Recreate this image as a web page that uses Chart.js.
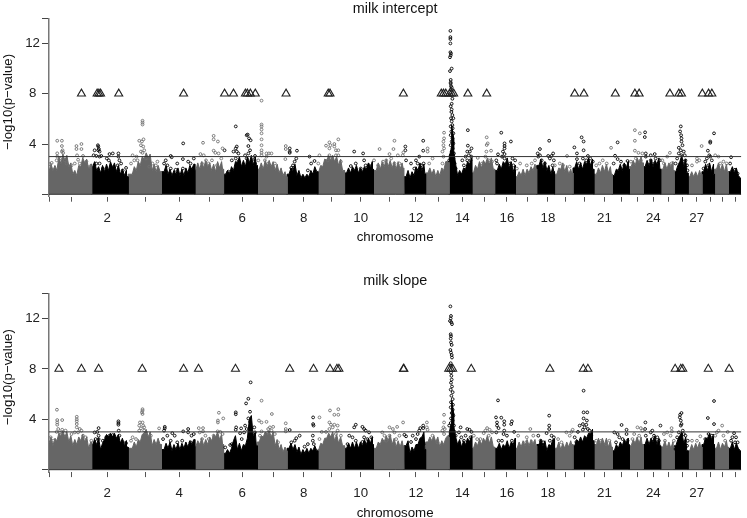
<!DOCTYPE html>
<html>
<head>
<meta charset="utf-8">
<title>milk intercept / milk slope</title>
<script src="https://cdn.jsdelivr.net/npm/chart.js@4"></script>
<style>
  html, body { margin: 0; padding: 0; background: #fff; }
  #page { position: relative; width: 747px; height: 518px; overflow: hidden; }
  canvas { position: absolute; left: 0; }
  #interceptChart { top: 0; }
  #slopeChart { top: 259px; }
</style>
</head>
<body>
<div id="page">
  <canvas id="interceptChart" width="747" height="259"></canvas>
  <canvas id="slopeChart" width="747" height="259"></canvas>
</div>
<script>
// Genome position has no numeric scale in the picture, so x runs 0-698 along the axis
const chromEnds = [43, 79.7, 113.3, 147, 176, 210, 240, 271, 298, 327, 357.7, 379.7, 403.3, 426.3, 449.3,
  470.3, 491.7, 509.7, 528.3, 549.3, 568, 585, 599.3, 616.7, 630.3, 644.3, 658.3, 671, 685, 697];
const chromTicks = [0, 22.3, 58.7, 97.7, 131.3, 162.3, 194.7, 226.3, 256.7, 285.3, 314.3, 343.3, 370, 392.7, 416.7,
  439, 461.7, 482.3, 503, 520.3, 540.3, 560, 577.3, 593.3, 609.3, 624.3, 639, 653, 666.7, 679.3, 691.7];
const chromLabels = ["", "", "2", "", "4", "", "6", "", "8", "", "10", "", "12", "", "14",
  "", "16", "", "18", "", "", "21", "", "", "24", "", "", "27", "", "", ""];
const yTicks = [0, 4, 8, 12, 14];
const yLabels = ["", "4", "8", "12", ""];
const threshold = 3;

// Top of the solid mass of points, one row per chromosome
const bandPositions = [
  0, 4, 8, 12, 16, 20, 24, 28, 32, 36, 40,
  44, 48, 52, 56, 60, 64, 68, 72, 76, 78,
  84, 88, 92, 96, 100, 104, 108, 112,
  116, 120, 124, 128, 132, 136, 140, 144,
  148, 152, 156, 160, 164, 168, 172, 175,
  178, 182, 186, 190, 194, 198, 202, 206, 209,
  212, 216, 220, 224, 228, 232, 236, 239,
  242, 246, 250, 254, 258, 262, 266, 270,
  272, 276, 280, 284, 288, 292, 296,
  300, 304, 308, 312, 316, 320, 324, 326,
  330, 334, 338, 342, 346, 350, 354, 357,
  360, 364, 368, 372, 376, 379,
  382, 386, 390, 394, 398, 402,
  404, 406, 408, 412, 416, 420, 424,
  428, 432, 436, 440, 444, 448,
  452, 456, 460, 464, 468,
  472, 476, 480, 484, 488, 491,
  494, 498, 502, 506, 509,
  512, 516, 520, 524, 527,
  530, 534, 538, 542, 546, 548,
  552, 556, 560, 564, 567,
  570, 574, 578, 582, 584,
  587, 591, 595, 598,
  601, 605, 609, 613, 616,
  619, 623, 627, 629,
  632, 636, 640, 643,
  646, 650, 654, 657,
  660, 664, 668, 670,
  673, 677, 681, 684,
  687, 691, 695, 697
];
const interceptBand = [
  1.8, 1.9, 1.9, 2.4, 2.7, 2.2, 1.6, 1.5, 2.2, 2.5, 2.0,
  2.2, 1.9, 1.7, 1.8, 1.9, 2.1, 1.8, 1.6, 1.5, 1.4,
  1.6, 1.9, 2.3, 2.8, 2.9, 1.9, 1.8, 1.8,
  1.8, 1.6, 1.5, 1.6, 1.5, 1.5, 1.7, 2.0,
  1.9, 2.0, 2.1, 2.2, 1.9, 1.8, 2.1, 2.0,
  1.6, 1.6, 1.9, 2.5, 2.2, 2.2, 2.5, 2.3, 2.3,
  2.0, 2.0, 2.2, 2.2, 1.9, 1.7, 1.5, 1.4,
  1.6, 1.9, 1.5, 1.3, 1.3, 1.4, 1.6, 1.8,
  1.8, 2.2, 2.7, 2.7, 2.6, 2.3, 1.9,
  1.7, 1.7, 1.9, 1.7, 1.8, 2.0, 2.1, 2.0,
  1.9, 2.0, 2.2, 2.2, 2.1, 2.0, 2.0, 2.1,
  1.4, 1.3, 1.5, 1.9, 1.9, 1.6,
  1.7, 1.6, 1.4, 1.5, 1.9, 2.6,
  3.0, 5.5, 3.5, 1.5, 1.6, 2.0, 2.4,
  1.7, 2.0, 2.1, 2.4, 2.4, 2.0,
  1.9, 2.0, 2.4, 2.1, 1.8,
  1.4, 1.5, 1.5, 1.7, 1.9, 2.0,
  2.3, 2.1, 1.9, 1.6, 1.8,
  1.6, 2.0, 1.8, 1.6, 1.7,
  2.1, 2.0, 2.0, 2.4, 2.3, 2.0,
  1.6, 1.7, 1.8, 1.7, 1.6,
  1.5, 1.9, 1.9, 2.1, 2.0,
  2.2, 2.3, 2.5, 2.5,
  2.2, 2.3, 2.2, 2.4, 2.0,
  2.0, 2.0, 2.2, 1.9,
  1.8, 2.6, 2.2, 1.7,
  1.4, 1.4, 1.4, 1.6,
  1.8, 1.9, 1.8, 1.6,
  2.0, 1.9, 1.8, 1.8,
  1.8, 1.7, 1.5, 1.3
];
const slopeBand = [
  2.1, 1.9, 2.3, 2.7, 2.6, 2.2, 1.9, 2.0, 2.3, 2.2, 1.7,
  2.0, 2.0, 1.6, 2.4, 2.6, 2.6, 2.5, 2.1, 1.9, 1.8,
  1.7, 1.8, 2.2, 2.9, 2.6, 1.9, 2.0, 2.0,
  1.6, 1.7, 1.5, 1.6, 1.6, 1.7, 1.8, 2.0,
  1.8, 2.0, 1.9, 2.0, 2.3, 2.6, 2.4, 2.0,
  1.3, 1.3, 2.3, 1.6, 1.5, 1.9, 4.0, 2.6, 1.9,
  2.2, 2.6, 2.8, 2.6, 1.9, 1.6, 1.4, 1.5,
  1.7, 1.6, 1.4, 1.2, 1.3, 1.3, 1.5, 1.5,
  1.6, 2.0, 2.5, 2.6, 2.3, 2.1, 1.9,
  1.7, 1.7, 1.7, 1.7, 1.9, 2.0, 2.1, 2.0,
  1.7, 2.0, 2.2, 2.3, 2.0, 1.8, 1.8, 1.9,
  1.9, 1.3, 1.5, 2.0, 2.6, 1.6,
  2.2, 2.3, 2.2, 1.8, 2.0, 2.7,
  3.0, 5.5, 3.5, 2.0, 1.8, 2.0, 2.2,
  1.7, 1.9, 2.0, 2.2, 2.1, 1.8,
  1.7, 1.6, 1.8, 1.7, 2.0,
  1.7, 1.8, 1.9, 1.9, 2.0, 1.9,
  2.0, 1.9, 1.5, 1.9, 2.4,
  1.7, 1.6, 1.7, 1.8, 2.0,
  1.9, 2.2, 2.2, 2.5, 2.9, 2.3,
  2.0, 2.0, 2.0, 1.8, 1.8,
  1.5, 1.7, 1.9, 2.1, 2.0,
  1.9, 2.1, 2.1, 2.0,
  2.0, 2.0, 2.2, 2.0, 1.9,
  1.8, 1.7, 1.7, 1.8,
  1.9, 2.7, 2.1, 1.5,
  1.5, 1.6, 1.7, 1.8,
  2.0, 2.5, 2.4, 2.0,
  1.7, 1.6, 1.8, 1.8,
  1.7, 1.6, 1.7, 1.5
];

// Highest points in the fringe just right of each band position, same rows as above
const interceptPeaks = [
  2.4, 2.3, 3.0, 3.2, 3.1, 2.5, 1.9, 2.3, 2.9, 2.8, 2.4,
  2.6, 2.2, 2.3, 2.4, 2.6, 2.5, 2.3, 2.0, 1.9, 1.7,
  2.2, 2.6, 3.0, 3.3, 3.2, 2.4, 2.3, 2.1,
  2.3, 2.0, 1.9, 2.1, 2.0, 2.1, 2.3, 2.4,
  2.5, 2.6, 2.7, 2.5, 2.4, 2.6, 2.6, 2.4,
  1.9, 2.2, 2.6, 3.0, 2.7, 3.0, 3.1, 3.0, 2.6,
  2.5, 2.7, 2.7, 2.6, 2.4, 2.1, 1.8, 1.7,
  2.1, 2.4, 1.9, 1.6, 1.6, 1.9, 2.2, 2.3,
  2.3, 2.8, 3.1, 3.1, 3.0, 2.8, 2.3,
  2.1, 2.2, 2.3, 2.1, 2.2, 2.5, 2.6, 2.4,
  2.5, 2.6, 2.8, 2.7, 2.6, 2.6, 2.5, 2.5,
  1.9, 1.8, 2.2, 2.5, 2.4, 2.1,
  2.1, 2.0, 1.9, 2.1, 2.6, 3.0,
  3.8, 4.5, 2.4, 1.9, 2.1, 2.6, 2.9,
  2.3, 2.6, 2.7, 2.9, 2.9, 2.6,
  2.4, 2.6, 2.9, 2.6, 2.3,
  1.8, 2.0, 2.0, 2.2, 2.4, 2.5,
  2.8, 2.6, 2.3, 2.2, 2.4,
  2.1, 2.5, 2.3, 2.0, 2.2,
  2.6, 2.5, 2.6, 2.9, 2.8, 2.5,
  2.1, 2.3, 2.4, 2.2, 2.0,
  2.0, 2.4, 2.5, 2.6, 2.4,
  2.7, 2.9, 3.0, 3.0,
  2.7, 2.8, 2.7, 2.9, 2.5,
  2.5, 2.5, 2.6, 2.4,
  2.3, 3.1, 2.8, 2.3,
  1.8, 1.8, 1.9, 2.0,
  2.4, 2.5, 2.4, 2.1,
  2.5, 2.4, 2.4, 2.3,
  2.2, 2.1, 1.9, 1.6
];
const slopePeaks = [
  2.6, 2.5, 2.9, 3.1, 3.0, 2.7, 2.4, 2.6, 2.8, 2.6, 2.2,
  2.4, 2.5, 2.1, 2.8, 2.9, 2.9, 2.8, 2.5, 2.3, 2.2,
  2.2, 2.4, 2.8, 3.2, 3.0, 2.4, 2.5, 2.4,
  2.1, 2.2, 2.0, 2.1, 2.1, 2.2, 2.3, 2.4,
  2.3, 2.5, 2.4, 2.6, 2.8, 3.0, 2.8, 2.4,
  1.6, 1.7, 2.7, 2.1, 2.0, 2.5, 4.3, 3.0, 2.4,
  2.7, 3.0, 3.1, 3.0, 2.4, 2.0, 1.8, 1.9,
  2.1, 2.0, 1.8, 1.6, 1.7, 1.7, 1.9, 2.0,
  2.1, 2.5, 2.9, 3.0, 2.8, 2.6, 2.4,
  2.1, 2.2, 2.2, 2.2, 2.4, 2.5, 2.6, 2.5,
  2.2, 2.5, 2.7, 2.8, 2.5, 2.3, 2.3, 2.4,
  2.3, 1.8, 2.0, 2.5, 3.0, 2.0,
  2.6, 2.7, 2.6, 2.3, 2.5, 3.0,
  3.8, 4.5, 2.6, 2.4, 2.3, 2.5, 2.7,
  2.2, 2.4, 2.5, 2.7, 2.6, 2.3,
  2.1, 2.0, 2.3, 2.2, 2.5,
  2.2, 2.3, 2.4, 2.4, 2.4, 2.4,
  2.4, 2.3, 2.0, 2.4, 2.8,
  2.2, 2.1, 2.2, 2.3, 2.5,
  2.4, 2.6, 2.7, 2.9, 3.2, 2.7,
  2.5, 2.5, 2.5, 2.3, 2.3,
  2.0, 2.2, 2.4, 2.5, 2.4,
  2.4, 2.6, 2.6, 2.5,
  2.5, 2.5, 2.7, 2.5, 2.4,
  2.3, 2.2, 2.2, 2.3,
  2.4, 3.0, 2.6, 2.0,
  2.0, 2.1, 2.2, 2.3,
  2.5, 2.9, 2.8, 2.4,
  2.2, 2.1, 2.3, 2.3,
  2.2, 2.1, 2.2, 2.0
];

// Markers at y = 8 stand for hits off the plotted scale
const interceptTriangles = [32.7, 48.5, 50.3, 52, 70.3, 135.7, 177, 186, 198, 200, 203, 208, 239, 281.5, 283.3,
  357.3, 395.5, 397.7, 400, 404, 406, 408, 422.3, 441.3, 530, 539.3, 571, 590.7, 595, 626, 635, 637.7, 658.7, 665, 668.3];
const slopeTriangles = [10, 32.7, 50, 94, 135.7, 150.7, 188, 242.7, 266.7, 283.3, 290.3, 292.3,
  357.3, 357.8, 403, 405, 407, 425.7, 505, 538.7, 543.3, 631.3, 637, 639, 664.7, 685.7];

// Individual points above the solid mass, [position, -log10(p)]
const interceptHits = [
  [8.3,4.26],[13,4.26],[13,3.84],[13.7,3.5],[8.3,3.26],[13,3.4],[14.3,3.3],[8.3,3],[7.7,2.7],[1,2.4],[2.7,2.5],[27.7,3.84],[27.7,3.6],[32.7,4],[32.7,3.6],[28.3,3.1],[34.3,3.05],[29.3,2.75],[26,2.45],[37.7,2.6],[41,2.2],[11,2.85],[16,2.7],[17.7,2.45],[31,2.45],[22.7,2.3],
  [49.3,3.9],[49.7,3.8],[50.3,3.6],[49.7,3.5],[46,3.5],[51,3.4],[45,3.1],[47.7,3.05],[51,3],[52.7,3.05],[61,3.2],[64.3,3.25],[70,3.25],[70,3],[58.3,2.85],[60.3,2.7],[51,2.45],[47.7,2.45],[71,2.7],[72.7,2.45],[69.3,2.3],[77.7,2.1],[62.7,2.2],[54.3,2.05],[74.3,1.9],[66,1.9],
  [94.3,5.85],[94.3,5.7],[94.3,5.55],[91,4.26],[95.3,4.37],[93.7,4.2],[92.7,3.9],[95,3.8],[96,3.5],[92.7,3.4],[94.3,3.3],[84.3,3.1],[88.3,3],[86,2.7],[82.7,2.45],[89.3,2.7],[97.7,2.85],[104.3,2.45],[109.3,2.6],[101,2.2],[107.7,2.3],
  [122.7,3.05],[123.7,2.95],[135.3,4.05],[117.7,2.7],[116,2.45],[119.3,2.3],[135,2.8],[129.3,2.45],[140.3,2.6],[142.7,2.45],[146,2.85],[122.7,2.05],[135,2.05],[127.7,1.95],
  [155.3,4.1],[166,4.65],[166,4.37],[170.3,4.2],[166,3.47],[167.7,3.3],[171,3.25],[175,3.65],[177,3.5],[152.7,3.2],[156,3.1],[158.3,2.7],[161,2.45],[173.7,2.85],[164.3,2.7],[154.3,2.45],[169.3,2.3],
  [188.3,5.4],[199.3,4.7],[200.3,4.75],[201.7,4.45],[203.3,4.3],[201,3.84],[189.3,3.8],[188.3,3.65],[186,3.4],[189.3,3.4],[191,3.25],[202.7,3.5],[197.7,3.1],[207.7,3.05],[207,2.8],[207.7,2.45],[188.3,2.85],[191,2.6],[184.3,2.7],[201,3.25],[199.3,2.85],[181,1.8],
  [214.3,7.45],[214.3,5.55],[214.3,5.4],[214.3,5.15],[214.3,4.85],[214.3,4.37],[214.3,3.9],[214.3,3.5],[214.3,3.3],[219.3,3.25],[221.7,3.25],[224.3,3.25],[219.3,3],[214.3,3.1],[217.7,2.7],[227.7,2.45],[221,2.45],[211,2.7],[238.7,3.84],[238.7,3.6],[238.3,2.8],
  [242.7,3.65],[242.7,3.4],[242.7,3.3],[250,3.47],[249.3,2.85],[247.7,2.6],[246,2.3],[262.7,3],[267.7,2.65],[264.3,2.45],[261,1.9],[244.3,2.1],
  [271.5,2.45],[272.7,3.1],[279.3,3.87],[282.7,4.13],[283.7,3.9],[287.7,4],[287.7,3.8],[291.7,4.37],[282.7,3.65],[289.3,3.5],[291.7,3.5],[282.7,3.1],[289.3,3.1],[291.7,3.1],[284.3,2.85],[294.3,2.6],[281,2.7],
  [307.7,3.4],[316.7,3.25],[317.7,2.7],[309.3,2.45],[304.3,2.25],[314.3,2.05],[319.3,2.3],[322.7,2.3],
  [327.7,2.7],[333.3,3.6],[343.3,3.2],[347.3,3.6],[348.3,4.26],[351.7,3.1],[357.3,3.33],[356.7,3.1],[340,2.7],[336.7,2.6],[345,2.85],[348.3,2.45],[331.7,2.3],[353.3,2.45],
  [359.3,3.8],[359.3,3.5],[360,2.7],[377.3,4.26],[377.3,3.47],[365,2.45],[370,2.7],[373.3,3],[371.7,2.45],[375,2.3],[377.7,2.45],[368.3,2.05],
  [381.7,3.65],[381.7,3.4],[386.7,2.85],[383.3,2.45],[398.3,4.9],[398.3,4.45],[397.7,4.2],[397.7,3.9],[398.3,3.65],[396.7,3.4],[397.7,3],[396.7,2.45],
  [404.7,13],[404.7,12.5],[404.7,12.35],[404.7,12],[404.7,11.3],[405.3,11.2],[405,11.05],[404.3,10.9],[406,10],[404.3,9.8],[405,9.1],[405,8.9],[405,8.8],[405.3,8.6],[406,8.5],[405,8.3],[405.3,7.9],[406.7,7.6],[406,7.2],[405,7],[406,6.75],[405.7,6.55],[406.7,6.3],[405.3,6.05],[407.7,6.05],[406,5.8],[406.7,5.5],[405,5.4],[407,5.25],[405.7,5],[407.7,4.85],[405,4.7],[406.7,4.45],[406,4.2],[407.7,4.05],[405,3.9],[407,3.65],[406,3.4],[408.3,3.25],[405,3.1],[407.7,2.85],[409,2.45],[403.5,2.7],[410,2.05],
  [422.3,5.1],[422.3,3.87],[426,3.65],[421.7,3.4],[424.3,3.4],[416.7,2.7],[420,3],[423.3,3.1],[425.7,3],[418.3,2.3],[421.7,2.7],[425,2.7],
  [441.3,4.53],[442.3,4.05],[441.3,3.92],[441,3.4],[445.7,3.47],[440,3],[443.3,2.7],[432.3,2.9],[436.7,2.45],[446.7,2.6],
  [456,4.9],[459.3,4.05],[459.3,3.84],[459.3,3.65],[465.7,4.2],[457.7,3.4],[459.3,3.2],[459.3,2.85],[456.7,3],[452.7,3.18],[451,2.7],[451.7,2.45],[467.3,2.85],[470,2.7],[468.3,2.3],[465,2.45],
  [475,2.45],[481.7,2.3],[490,2.7],[486.7,2.45],[471.7,2.05],
  [504.3,4.26],[495,3.6],[492.7,3.25],[495,3.1],[493.3,3],[496.7,2.7],[508.3,3.25],[503.3,3.05],[506.7,3.05],[505,2.85],[509,2.7],[500,2.45],[507.7,2.3],
  [522.3,3.05],[515,2.45],[510,2.3],[518.3,2.3],[525,2.2],
  [537,4.53],[539,4.2],[529.7,3.73],[539,3.5],[532.3,3.25],[532.3,2.8],[538.3,2.85],[543.3,3.05],[545.7,2.85],[541.7,2.7],[548.3,2.6],[535,2.45],
  [558.3,2.7],[566.7,3.7],[555,2.45],[551.7,2.3],[562.3,2.45],
  [573.3,4.13],[570.7,3.07],[573.3,2.8],[569.3,2.45],[576.7,2.6],[583.3,2.65],[580,2.3],
  [590.7,5.1],[590.7,4.26],[595.7,4.85],[590.7,3.47],[594.3,3.3],[598.3,3.25],[591.7,2.85],[596.7,2.7],[586.7,2.6],
  [601,4.93],[600.7,4.55],[601.7,3.25],[606.7,3.1],[610.7,3.2],[601.7,3],[606.7,2.7],[611.7,2.85],[608.3,2.45],[615.7,2.7],
  [626,3.3],[618.3,2.7],[623.3,3],[627.7,2.45],[620,2.45],
  [637,5.4],[636.3,5],[637.3,4.7],[637.7,4.45],[637.7,4.2],[638.7,3.9],[635,3.7],[637,3.5],[640,3.4],[635,3.25],[637.7,3.1],[641,3.1],[633.3,2.85],[641.7,2.7],[643.3,2.3],[643.7,1.9],[631.7,2.45],[640,2.6],
  [658,3.84],[653.3,2.85],[653.3,2.6],[648.3,2.3],[655.7,2.7],
  [670.5,4.85],[666.7,4.2],[666.7,4.1],[664.3,3.47],[665.7,3.1],[663.3,2.85],[666.7,3],[661.7,2.6],[668.3,2.7],[660,2.05],[665,2.3],
  [671.7,3.1],[675,3],[680,2.6],[683.3,2.45],[676.7,2.45],
  [687.7,2.95],[686.7,2.45],[691.7,1.95],[694.3,1.65]
];
const slopeHits = [
  [8,4.76],[8.3,3.94],[8.3,3.75],[8.3,3.57],[13.3,3.94],[9.3,3.23],[13.3,3.17],[11,2.96],[7.7,3],[16.7,3.1],[1.7,2.57],[4.3,2.3],[28,4.2],[28,4],[28,3.84],[28,3.62],[28,3.36],[31,3.23],[32.7,3.1],[22.7,2.83],[26,2.96],[29.3,2.96],[37,2.57],[42.7,2.3],[34.3,2.7],
  [50,3.3],[46,2.96],[48.7,3],[50,2.7],[47,2.43],[50,2.43],[70,3.84],[70,3.7],[70,3.57],[70.3,3.1],[64.3,2.75],[61,2.7],[71,2.7],[77.7,2.1],[74.3,2.2],[54.3,2.3],[57.7,2.57],
  [94.3,4.8],[94.3,4.68],[93.7,4.55],[94.3,4.42],[91.7,3.75],[94.3,3.75],[91,3.5],[95,3.5],[92.7,3.28],[96,3.36],[91,3.1],[96,3.1],[97.7,2.96],[111,3.28],[102.7,2.7],[84.3,2.57],[82.7,2.3],[87.7,2.43],
  [116.7,3.4],[116.7,3.28],[116,3.1],[124.3,2.9],[126.7,2.7],[135.3,3.04],[140.3,3.23],[140.3,2.96],[146,2.83],[143.7,2.7],[119.3,2.7],[115,2.43],[134.3,2.3],[142.7,2.17],[122.7,2.3],[129.3,2.17],
  [151,3.3],[155.3,3.3],[155.3,3.04],[152,2.96],[171.3,4.52],[170.3,3.9],[170.3,3.75],[175.7,4.07],[170,3.04],[172.7,3],[157.7,2.7],[161,2.43],[166,2.7],[175,2.83],[154.3,2.43],
  [188.3,4.55],[188.3,4.4],[203.3,6.93],[201,5.63],[198.7,5.26],[188.7,3.36],[188.3,3.17],[193.7,3.28],[197.7,3.5],[202.7,4.6],[201,4.07],[202.7,3.8],[199.3,3.23],[207,3.36],[207.7,2.96],[192.7,2.9],[196.7,2.96],[182.7,1.96],[177.7,1.77],[194.3,2.43],[184.3,2.03],[206,2.7],
  [214.3,5.48],[211.7,3.9],[214.3,3.75],[219.3,3.8],[224.7,4.42],[226,3.4],[222.7,3.36],[221,3.23],[224.3,3.1],[221,2.96],[214.3,3.04],[212.7,2.7],[227.7,2.83],[231,2.17],[238.7,3.68],[238.7,3.23],[238.7,3.04],
  [242.7,3.15],[266.3,4.15],[266.3,3.62],[266.7,3.5],[252.7,2.7],[249.3,2.5],[247.7,2.3],[266,2.7],[261,2.03],[266,2.3],[257.7,1.83],[244.3,2.17],[267,2.03],
  [272.7,4.15],[283.3,4.7],[287.7,4.36],[291.7,4.36],[291.7,4.8],[282.7,3.75],[284.3,3.57],[287.7,3.57],[291,3.5],[286,3.36],[282.7,3.23],[279.3,3],[275,3],[291,3.1],[272.7,2.43],[294.3,2.7],[289.3,2.83],
  [309.3,3.57],[307.7,3.36],[316,3.4],[317.7,3.23],[319.3,3.1],[322.7,2.96],[302.7,2.7],[306,2.57],[309.3,2.3],[317.7,2.57],[321,2.43],[301,2.03],[316,2.2],[325,2.57],
  [336,2.96],[343.3,3.36],[346.7,3.23],[351,3.4],[357,3.75],[338.3,2.7],[343.3,2.7],[348.3,2.96],[353.3,2.7],[350,2.43],[340,2.3],
  [358.3,2.77],[360,2.65],[377.3,3.5],[377.3,3.3],[374.3,3.3],[373.3,3.1],[371.7,2.83],[366.7,2.7],[365,2.2],[370,2.43],[377.7,2.03],[375,1.64],[363.3,1.24],
  [381,3.75],[381,3.36],[381.7,3.17],[386.7,2.7],[398.3,4.36],[398.3,3.75],[397.7,3.36],[399,3.23],[396.7,3.1],[398.3,2.83],[391.7,2.17],
  [404.7,12.96],[405.3,12.2],[405,12],[404.3,11.8],[405.7,11.7],[406.3,11.55],[405,10.75],[405.3,10.6],[405,10.4],[405.3,10.1],[406,9.9],[404.7,9.5],[405.3,9.3],[406,9.1],[406.3,8.9],[405,8.45],[405.3,8.25],[405.3,7.7],[405.7,7.45],[406,7.15],[405.3,6.9],[406.3,6.6],[405,6.35],[407,6.15],[405.7,5.87],[407,5.6],[405.3,5.35],[407.3,5.15],[405,4.95],[407,4.76],[406,4.5],[407.7,4.3],[405.3,4.07],[407,3.9],[405,3.7],[408.3,3.5],[406,3.23],[409,3],[405,2.7],[410,2.7],[403.5,3.5],
  [415,3.36],[413.3,2.96],[421.7,3.23],[424,3.17],[426,3],[420,2.7],[425,2.57],[415.7,2.57],[418.3,2.3],[423.3,2.17],
  [428.3,2.7],[431.7,2.43],[438.3,2.9],[441.7,3.3],[444.3,3.17],[440,3.1],[446.7,2.96],[435,2.43],[443.3,2.7],
  [452.7,5.5],[450.7,4.15],[456,4.13],[451.7,3.75],[459,3.84],[459,3.57],[466.7,3.84],[466,3.62],[451.7,3.5],[453.3,3.3],[459,3.1],[451,2.96],[458.3,2.83],[469,3],[461.7,2.7],[453.3,2.3],[466.7,2.3],[456.7,2.3],
  [485.3,3.23],[481.7,2.57],[488.3,2.7],[473,2.7],[481,2.17],[486.7,2.2],
  [504.3,4.29],[504.3,3.5],[504.3,3.23],[501.7,2.9],[506.7,2.7],[509,2.57],[505,2.3],[495.7,2.3],[498.3,2.17],[493.3,2.7],[508.3,2.03],
  [521.7,2.96],[526.7,3],[528,3.17],[513.3,2.43],[516.7,2.17],[525,2.7],
  [539,6.27],[539,4.55],[542.7,4.55],[539,4.07],[538.3,3.62],[542.3,3.9],[541.7,3.57],[535,3.5],[540,3.36],[543.3,3.23],[538.3,3.17],[545,3.1],[533.3,3],[546.7,2.7],[530,2.57],[531.7,2.2],
  [551.7,2.3],[556.7,2.3],[561.7,2.03],[565,2.3],
  [577.3,3.55],[582.3,3.17],[570,2.96],[573.3,2.83],[575,2.57],[578.3,2.43],[582.3,2.83],[583.3,2.3],[571.7,2.17],
  [593.3,3.36],[596.7,3.3],[598.3,3.1],[590,2.83],[595,2.7],[588.3,2.43],
  [601.3,3.75],[601,3.23],[616.5,3.5],[608.3,3.1],[606.7,2.96],[601.7,2.7],[610,2.7],[613.3,2.57],[608.3,2.43],[615,2.3],
  [627.7,3.3],[628,3.04],[623.3,2.96],[620,2.83],[626.7,2.7],[621,2.3],[630,2.3],
  [637.7,4.5],[636.3,4.36],[636,4.15],[637,3.9],[637.7,3.62],[637,3.5],[639,3.1],[635,2.96],[640,2.83],[633.3,2.57],[641.7,2.7],[631.7,1.64],[644,2.3],[643.3,1.9],
  [656.7,2.65],[648.3,2.3],[653.3,2.3],
  [664.3,4.1],[670.5,5.45],[670.5,3.62],[665,2.83],[668.3,2.7],[661.7,2.43],
  [678.7,3.5],[675,3.1],[673.3,2.96],[671.7,2.7],[684.3,3],[680,2.7],[681.7,2.3],
  [690.7,2.9],[689,2.57],[692.7,2.57],[694.3,2.17],[687.7,2.3],[691.7,2.17]
];

const GREY = "#666666";
const BLACK = "#000000";
const LABEL_FONT = { family: "Liberation Sans", size: 13.3 };

function chromIndex(position) {
  const i = chromEnds.findIndex((end) => position <= end);
  return i < 0 ? chromEnds.length - 1 : i;
}

// One filled area per chromosome, alternating grey and black
function bandDatasets(band, peaks) {
  return chromEnds.map((end, i) => {
    const start = i === 0 ? 0 : chromEnds[i - 1];
    const color = i % 2 === 0 ? GREY : BLACK;
    const points = [];
    bandPositions.forEach((x, k) => {
      if (chromIndex(x) !== i) return;
      points.push({ x: x, y: band[k] });
      if (x + 2 < end) points.push({ x: x + 2, y: peaks[k] });
    });
    return {
      data: [
        { x: start, y: 0 },
        { x: start, y: points[0].y },
        ...points,
        { x: end, y: points[points.length - 1].y },
        { x: end, y: 0 },
      ],
      showLine: true,
      fill: "origin",
      tension: 0,
      borderWidth: 1,
      borderColor: color,
      pointRadius: 0,
      backgroundColor: color,
      order: 4,
    };
  });
}

function hitDataset(hits, oddChrom) {
  return {
    data: hits
      .filter(([x]) => (chromIndex(x) % 2 === 0) === oddChrom)
      .map(([x, y]) => ({ x: x, y: y })),
    pointRadius: 1.4,
    pointBorderWidth: 0.9,
    pointBorderColor: oddChrom ? "#707070" : BLACK,
    pointBackgroundColor: "rgba(255,255,255,0)",
    order: 3,
  };
}

function lineDataset(value, color) {
  return {
    data: [{ x: 0, y: value }, { x: 698, y: value }],
    showLine: true,
    borderColor: color,
    borderWidth: 1,
    pointRadius: 0,
    order: 2,
  };
}

function drawPanel(canvasId, titleText, band, peaks, hits, triangles, panel) {
  new Chart(document.getElementById(canvasId), {
    type: "scatter",
    data: {
      datasets: [
        ...bandDatasets(band, peaks),
        hitDataset(hits, true),
        hitDataset(hits, false),
        lineDataset(0, "#333333"),
        lineDataset(threshold, "#333333"),
        {
          data: triangles.map((x) => ({ x: x, y: 8 })),
          pointStyle: "triangle",
          pointRadius: 4.6,
          pointBorderWidth: 1.1,
          pointBorderColor: "#222222",
          pointBackgroundColor: "rgba(255,255,255,0)",
          order: 1,
        },
      ],
    },
    options: {
      responsive: false,
      animation: false,
      layout: { padding: 0 },
      plugins: {
        legend: { display: false },
        tooltip: { enabled: false },
        title: {
          display: true,
          text: titleText,
          fullSize: false,
          color: "#111111",
          font: { family: "Liberation Sans", size: 14.4, weight: "normal" },
          padding: { top: panel.titleTop, bottom: panel.titleBottom },
        },
      },
      scales: {
        x: {
          type: "linear",
          min: 0,
          max: 698,
          afterBuildTicks: (axis) => {
            axis.ticks = chromTicks.map((value) => ({ value: value }));
          },
          afterFit: (axis) => {
            axis.height = panel.xAxisHeight;
          },
          border: { display: false },
          grid: { drawOnChartArea: false, tickLength: 5, tickColor: "#555555", tickWidth: 1 },
          ticks: {
            autoSkip: false,
            maxRotation: 0,
            padding: 8.5,
            color: "#222222",
            font: LABEL_FONT,
            callback: (value, index) => chromLabels[index],
          },
          title: {
            display: true,
            text: "chromosome",
            color: "#111111",
            font: LABEL_FONT,
            padding: { top: 0, bottom: panel.xTitleBottom },
          },
        },
        y: {
          type: "linear",
          min: -0.19,
          max: 14,
          afterBuildTicks: (axis) => {
            axis.ticks = yTicks.map((value) => ({ value: value }));
          },
          afterFit: (axis) => {
            axis.width = 49;
          },
          border: { color: "#777777", width: 1.5 },
          grid: { drawOnChartArea: false, tickLength: 7, tickColor: "#444444", tickWidth: 1 },
          ticks: {
            autoSkip: false,
            padding: 2,
            crossAlign: "center",
            color: "#222222",
            font: LABEL_FONT,
            callback: (value, index) => yLabels[index],
          },
          title: {
            display: true,
            // leading no-break spaces lift the rotated label above the axis centre
            text: "\u00a0\u00a0\u00a0\u2212log10(p\u2212value)",
            color: "#111111",
            font: LABEL_FONT,
            padding: 0,
          },
        },
      },
    },
  });
}

drawPanel("interceptChart", "milk intercept", interceptBand, interceptPeaks, interceptHits, interceptTriangles, {
  titleTop: 0,
  titleBottom: 1,
  xAxisHeight: 62.3,
  xTitleBottom: 13.5,
});
drawPanel("slopeChart", "milk slope", slopeBand, slopePeaks, slopeHits, slopeTriangles, {
  titleTop: 13,
  titleBottom: 4,
  xAxisHeight: 45.9,
  xTitleBottom: -3,
});
</script>
</body>
</html>
